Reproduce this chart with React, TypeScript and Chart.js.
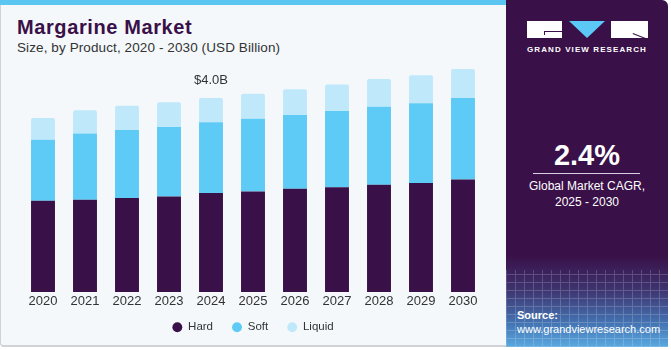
import React, { useEffect, useRef } from "react";
import { Chart, registerables } from "chart.js";

Chart.register(...registerables);

const years = ["2020", "2021", "2022", "2023", "2024", "2025", "2026", "2027", "2028", "2029", "2030"];
const hard = [1.88, 1.9, 1.94, 1.97, 2.04, 2.07, 2.13, 2.16, 2.21, 2.25, 2.32];
const soft = [1.26, 1.37, 1.4, 1.43, 1.46, 1.5, 1.52, 1.57, 1.61, 1.64, 1.68];
const liquid = [0.45, 0.48, 0.5, 0.51, 0.5, 0.52, 0.53, 0.55, 0.57, 0.58, 0.6];
const labelIndex = 4;
const labelText = "$4.0B";

const FONT = '"Liberation Sans", Arial, Helvetica, sans-serif';

const valueLabel = {
  id: "valueLabel",
  afterDatasetsDraw(chart: any) {
    const meta = chart.getDatasetMeta(2);
    const el = meta.data[labelIndex];
    if (!el) return;
    const ctx = chart.ctx;
    ctx.save();
    ctx.font = `13px ${FONT}`;
    ctx.fillStyle = "#333333";
    ctx.textAlign = "center";
    ctx.textBaseline = "middle";
    ctx.fillText(labelText, el.x, el.y - 18);
    ctx.restore();
  },
};

const legendShift = {
  id: "legendShift",
  afterLayout(chart: any) {
    const lg = chart.legend;
    if (!lg) return;
    lg.top -= 7;
    lg.bottom -= 7;
  },
};

function MarketChart() {
  const ref = useRef<HTMLCanvasElement | null>(null);
  useEffect(() => {
    if (!ref.current) return;
    const chart = new Chart(ref.current, {
      type: "bar",
      data: {
        labels: years,
        datasets: [
          { label: "Hard", data: hard, backgroundColor: "#3a1048", borderWidth: 0 },
          { label: "Soft", data: soft, backgroundColor: "#5ecbf6", borderWidth: 0 },
          {
            label: "Liquid",
            data: liquid,
            backgroundColor: "#bfe9fb",
            borderWidth: 0,
            borderRadius: { topLeft: 2, topRight: 2, bottomLeft: 0, bottomRight: 0 },
            borderSkipped: "start",
          },
        ],
      },
      options: {
        responsive: false,
        animation: false,
        devicePixelRatio: 1,
        layout: { padding: { top: 49.5, left: 22, right: 22, bottom: 0 } },
        datasets: { bar: { categoryPercentage: 1, barPercentage: 0.57 } },
        scales: {
          x: {
            stacked: true,
            grid: { display: false, drawTicks: false },
            border: { display: false },
            ticks: { color: "#333333", font: { family: FONT, size: 13 }, padding: 2, maxRotation: 0 },
            afterFit: (scale: any) => {
              scale.height = 17.5;
            },
          },
          y: { stacked: true, display: false, min: 0, max: 5 },
        },
        plugins: {
          legend: {
            position: "bottom",
            labels: {
              usePointStyle: true,
              pointStyle: "circle",
              boxWidth: 10,
              boxHeight: 7,
              padding: 19,
              color: "#333333",
              font: { family: FONT, size: 11.5 },
            },
          },
          tooltip: { enabled: false },
        },
      },
      plugins: [valueLabel, legendShift],
    });
    return () => chart.destroy();
  }, []);
  return (
    <canvas
      ref={ref}
      width={506}
      height={350}
      style={{ position: "absolute", left: 0, top: 0, width: 506, height: 350 }}
    />
  );
}

export default function App() {
  const abs = (o: any) => ({ position: "absolute" as const, ...o });
  return (
    <div
      style={{
        position: "fixed",
        left: 0,
        top: 0,
        width: 671,
        height: 350,
        overflow: "hidden",
        background: "#ffffff",
        fontFamily: FONT,
      }}
    >
      {/* left panel */}
      <div
        style={abs({
          left: 0,
          top: 0,
          width: 506,
          height: 347,
          background: "#f4f8fb",
          borderLeft: "1px solid #cfd3d6",
          borderBottom: "2px solid #cfd3d6",
          borderBottomLeftRadius: 4,
          boxSizing: "border-box",
        })}
      />
      <div style={abs({ left: 0, top: 0, width: 506, height: 5, background: "#5bc6f2" })} />
      <div
        style={abs({
          left: 17,
          top: 15,
          fontSize: 20,
          fontWeight: 800,
          letterSpacing: 0.6,
          color: "#3a1048",
          whiteSpace: "nowrap",
          lineHeight: "24px",
        })}
      >
        Margarine Market
      </div>
      <div
        style={abs({
          left: 17,
          top: 40,
          fontSize: 13.5,
          letterSpacing: 0.1,
          color: "#333333",
          whiteSpace: "nowrap",
          lineHeight: "16px",
        })}
      >
        Size, by Product, 2020 - 2030 (USD Billion)
      </div>

      <MarketChart />

      {/* right panel */}
      <div
        style={abs({
          left: 506,
          top: 0,
          width: 162,
          height: 347,
          borderTopRightRadius: 6,
          overflow: "hidden",
          background:
            "linear-gradient(180deg, #3a1048 0px, #3a1048 255px, #3d3470 290px, #4577b6 325px, #5aa9e0 347px)",
        })}
      >
        <div
          style={abs({
            left: 0,
            top: 270,
            width: 162,
            height: 77,
            opacity: 0.18,
            backgroundImage:
              "repeating-linear-gradient(90deg, #ffffff 0px, #ffffff 1px, transparent 1px, transparent 9px), repeating-linear-gradient(0deg, #ffffff 0px, #ffffff 1px, transparent 1px, transparent 8px)",
          })}
        />
      </div>

      {/* logo */}
      <div style={abs({ left: 527, top: 21, width: 35, height: 17, background: "#ffffff" })} />
      <div style={abs({ left: 544, top: 31, width: 18, height: 1, background: "#3a1048" })} />
      <div style={abs({ left: 544, top: 31, width: 1, height: 4, background: "#3a1048" })} />
      <div
        style={abs({
          left: 569,
          top: 21,
          width: 0,
          height: 0,
          borderLeft: "18.5px solid transparent",
          borderRight: "18.5px solid transparent",
          borderTop: "17px solid #5bc8f5",
        })}
      />
      <div style={abs({ left: 611, top: 21, width: 37, height: 17, background: "#ffffff" })} />
      <div
        style={abs({
          left: 633,
          top: 33,
          width: 15,
          height: 1,
          background: "#3a1048",
          transform: "rotate(22deg)",
          transformOrigin: "0 0",
        })}
      />
      <div
        style={abs({
          left: 506,
          top: 45,
          width: 162,
          textAlign: "center",
          color: "#ffffff",
          fontSize: 8,
          fontWeight: 700,
          letterSpacing: 1.1,
          lineHeight: "10px",
          whiteSpace: "nowrap",
        })}
      >
        GRAND VIEW RESEARCH
      </div>

      <div
        style={abs({
          left: 506,
          top: 138,
          width: 162,
          textAlign: "center",
          color: "#ffffff",
          fontSize: 29,
          fontWeight: 700,
          lineHeight: "34px",
        })}
      >
        2.4%
      </div>
      <div style={abs({ left: 533, top: 173, width: 107, height: 1, background: "#d8cfe0" })} />
      <div
        style={abs({
          left: 506,
          top: 178,
          width: 162,
          textAlign: "center",
          color: "#ffffff",
          fontSize: 12,
          lineHeight: "16px",
        })}
      >
        Global Market CAGR,
        <br />
        2025 - 2030
      </div>

      <div
        style={abs({
          left: 517,
          top: 309,
          color: "#ffffff",
          fontSize: 11,
          fontWeight: 700,
          lineHeight: "13px",
        })}
      >
        Source:
      </div>
      <div
        style={abs({ left: 517, top: 323, color: "#ffffff", fontSize: 11, lineHeight: "13px", whiteSpace: "nowrap" })}
      >
        www.grandviewresearch.com
      </div>
    </div>
  );
}
